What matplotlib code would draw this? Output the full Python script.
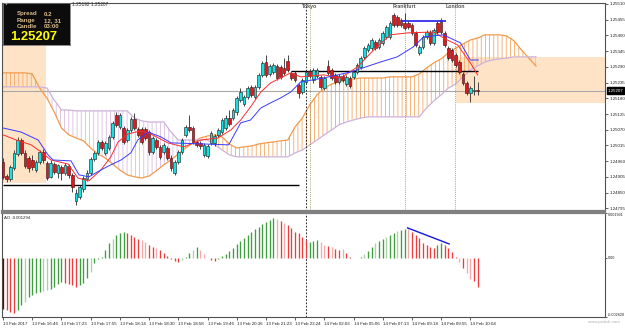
import numpy as np
import matplotlib
matplotlib.use("Agg")
import matplotlib.pyplot as plt
import matplotlib.transforms as mtransforms

# ---------------- data ----------------
OPEN = [1.24957, 1.24908, 1.24898, 1.24936, 1.24985, 1.25034, 1.24989, 1.24971, 1.24964, 1.24929,
        1.24957, 1.24992, 1.24954, 1.24905, 1.24950, 1.24919, 1.24940, 1.24919, 1.24943, 1.24912,
        1.24821, 1.24835, 1.24863, 1.24898, 1.24919, 1.24968, 1.24989, 1.25027, 1.24989, 1.25006,
        1.25045, 1.25122, 1.25080, 1.25076, 1.25034, 1.25069, 1.25108, 1.25073, 1.25073, 1.25073,
        1.25062, 1.24992, 1.25034, 1.25010, 1.24992, 1.25006, 1.24971, 1.24919, 1.24957, 1.24992,
        1.25052, 1.25080, 1.25076, 1.25027, 1.25024, 1.24982, 1.24978, 1.25024, 1.25024, 1.25052,
        1.25062, 1.25076, 1.25111, 1.25111, 1.25132, 1.25174, 1.25160, 1.25185, 1.25220, 1.25185,
        1.25220, 1.25262, 1.25307, 1.25265, 1.25272, 1.25293, 1.25290, 1.25286, 1.25311, 1.25269,
        1.25269, 1.25227, 1.25202, 1.25237, 1.25276, 1.25244, 1.25258, 1.25255, 1.25216, 1.25293,
        1.25279, 1.25262, 1.25237, 1.25258, 1.25230, 1.25251, 1.25255, 1.25272, 1.25290, 1.25325,
        1.25349, 1.25356, 1.25377, 1.25360, 1.25374, 1.25395, 1.25395, 1.25472, 1.25465, 1.25454,
        1.25444, 1.25444, 1.25437, 1.25409, 1.25339, 1.25360, 1.25395, 1.25412, 1.25374, 1.25444,
        1.25454, 1.25409, 1.25356, 1.25349, 1.25332, 1.25307, 1.25265, 1.25234, 1.25199, 1.25206,
        1.25209]
HIGH = [1.24971, 1.24915, 1.24947, 1.24999, 1.25045, 1.25041, 1.24999, 1.24978, 1.24982, 1.24964,
        1.24999, 1.25003, 1.24961, 1.24964, 1.24957, 1.24950, 1.24947, 1.24954, 1.24950, 1.24919,
        1.24863, 1.24877, 1.24908, 1.24929, 1.24975, 1.24996, 1.25034, 1.25034, 1.25031, 1.25052,
        1.25101, 1.25132, 1.25129, 1.25083, 1.25076, 1.25115, 1.25129, 1.25080, 1.25080, 1.25080,
        1.25069, 1.25048, 1.25041, 1.25017, 1.25024, 1.25013, 1.24982, 1.24964, 1.24999, 1.25041,
        1.25087, 1.25122, 1.25083, 1.25034, 1.25031, 1.25024, 1.25020, 1.25066, 1.25055, 1.25076,
        1.25111, 1.25122, 1.25139, 1.25146, 1.25188, 1.25216, 1.25192, 1.25223, 1.25227, 1.25227,
        1.25269, 1.25311, 1.25332, 1.25300, 1.25304, 1.25300, 1.25297, 1.25321, 1.25332, 1.25276,
        1.25276, 1.25234, 1.25251, 1.25279, 1.25283, 1.25286, 1.25286, 1.25262, 1.25258, 1.25314,
        1.25286, 1.25269, 1.25265, 1.25265, 1.25262, 1.25258, 1.25279, 1.25304, 1.25328, 1.25363,
        1.25374, 1.25391, 1.25384, 1.25391, 1.25416, 1.25437, 1.25451, 1.25479, 1.25472, 1.25461,
        1.25479, 1.25451, 1.25444, 1.25416, 1.25367, 1.25402, 1.25419, 1.25419, 1.25426, 1.25451,
        1.25461, 1.25416, 1.25363, 1.25356, 1.25339, 1.25314, 1.25272, 1.25241, 1.25223, 1.25258,
        1.25237]
LOW = [1.24898, 1.24887, 1.24891, 1.24929, 1.24978, 1.24982, 1.24936, 1.24922, 1.24929, 1.24922,
       1.24950, 1.24954, 1.24894, 1.24901, 1.24915, 1.24901, 1.24894, 1.24912, 1.24901, 1.24852,
       1.24807, 1.24828, 1.24852, 1.24891, 1.24912, 1.24961, 1.24982, 1.24999, 1.24982, 1.24999,
       1.25038, 1.25080, 1.25073, 1.25020, 1.25027, 1.25062, 1.25069, 1.25045, 1.25020, 1.25034,
       1.24982, 1.24985, 1.25003, 1.24968, 1.24985, 1.24964, 1.24926, 1.24912, 1.24950, 1.24985,
       1.25045, 1.25062, 1.25020, 1.25010, 1.25003, 1.24975, 1.24971, 1.25017, 1.25013, 1.25045,
       1.25055, 1.25069, 1.25083, 1.25104, 1.25122, 1.25167, 1.25153, 1.25178, 1.25185, 1.25178,
       1.25213, 1.25255, 1.25255, 1.25258, 1.25265, 1.25244, 1.25248, 1.25262, 1.25272, 1.25244,
       1.25237, 1.25181, 1.25195, 1.25230, 1.25251, 1.25234, 1.25251, 1.25213, 1.25209, 1.25262,
       1.25244, 1.25230, 1.25230, 1.25237, 1.25223, 1.25216, 1.25248, 1.25265, 1.25283, 1.25318,
       1.25342, 1.25349, 1.25349, 1.25353, 1.25367, 1.25388, 1.25388, 1.25430, 1.25430, 1.25430,
       1.25419, 1.25423, 1.25402, 1.25360, 1.25332, 1.25353, 1.25388, 1.25367, 1.25367, 1.25405,
       1.25405, 1.25360, 1.25314, 1.25307, 1.25290, 1.25265, 1.25227, 1.25192, 1.25167, 1.25192,
       1.25192]
CLOSE = [1.24905, 1.24898, 1.24940, 1.24989, 1.25034, 1.24989, 1.24943, 1.24936, 1.24940, 1.24957,
         1.24992, 1.24964, 1.24901, 1.24954, 1.24922, 1.24947, 1.24919, 1.24947, 1.24912, 1.24870,
         1.24849, 1.24870, 1.24901, 1.24919, 1.24968, 1.24989, 1.25027, 1.25006, 1.25024, 1.25045,
         1.25094, 1.25087, 1.25122, 1.25027, 1.25069, 1.25108, 1.25076, 1.25052, 1.25027, 1.25041,
         1.24992, 1.25041, 1.25010, 1.24975, 1.25017, 1.24971, 1.24936, 1.24957, 1.24992, 1.25034,
         1.25080, 1.25069, 1.25027, 1.25017, 1.25013, 1.25017, 1.25013, 1.25059, 1.25048, 1.25069,
         1.25104, 1.25111, 1.25090, 1.25139, 1.25181, 1.25202, 1.25185, 1.25216, 1.25192, 1.25220,
         1.25262, 1.25304, 1.25262, 1.25293, 1.25297, 1.25251, 1.25255, 1.25269, 1.25279, 1.25251,
         1.25244, 1.25199, 1.25244, 1.25272, 1.25258, 1.25279, 1.25279, 1.25220, 1.25251, 1.25269,
         1.25251, 1.25237, 1.25258, 1.25244, 1.25255, 1.25223, 1.25272, 1.25297, 1.25321, 1.25356,
         1.25367, 1.25384, 1.25356, 1.25384, 1.25409, 1.25430, 1.25444, 1.25437, 1.25437, 1.25437,
         1.25426, 1.25430, 1.25409, 1.25367, 1.25360, 1.25395, 1.25412, 1.25374, 1.25419, 1.25412,
         1.25412, 1.25367, 1.25321, 1.25314, 1.25297, 1.25272, 1.25234, 1.25199, 1.25216, 1.25209,
         1.25207]

# Ichimoku lines: (bar index, price) vertices
TENKAN_X = [0, 3.6, 7.7, 10.4, 13.1, 17.8, 20.5, 23.5, 26.8, 29.5, 31.5, 34.2, 37.7, 40.5, 45.1, 49.5,
            54.2, 58.8, 62.4, 65.1, 67.8, 70.6, 73.3, 76, 78.8, 81.5, 87.8, 92.5, 97.1, 101.5, 106.1,
            110.8, 117.9, 121.7, 124.5, 128, 130]
TENKAN_Y = [1.25052, 1.25034, 1.25017, 1.24992, 1.24964, 1.24950, 1.24901, 1.24891, 1.24929, 1.24975,
            1.25027, 1.25055, 1.25066, 1.25055, 1.25024, 1.25010, 1.25034, 1.25041, 1.25069, 1.25104,
            1.25150, 1.25202, 1.25234, 1.25251, 1.25269, 1.25255, 1.25262, 1.25251, 1.25290, 1.25349,
            1.25402, 1.25409, 1.25412, 1.25384, 1.25367, 1.25304, 1.25262]
KIJUN_X = [0, 4.9, 9.6, 12.3, 13.7, 18.6, 20.8, 23.5, 26.8, 29.5, 32.3, 35, 36.9, 39.7, 43.2, 46,
           61.8, 65.1, 67.8, 70.6, 73.3, 76, 78.8, 81.5, 87.8, 95.2, 103.4, 108, 112.4, 115.2, 120.6,
           125.3, 128, 130.2]
KIJUN_Y = [1.25076, 1.25062, 1.25034, 1.24982, 1.24964, 1.24961, 1.24912, 1.24905, 1.24929, 1.24947,
           1.24964, 1.24989, 1.25034, 1.25062, 1.25045, 1.25024, 1.25017, 1.25094, 1.25104, 1.25146,
           1.25164, 1.25181, 1.25202, 1.25237, 1.25251, 1.25272, 1.25307, 1.25325, 1.25360, 1.25395,
           1.25402, 1.25374, 1.25314, 1.25314]
SPAN_X = list(range(0, 148, 2))
SPAN_A = [1.25269, 1.25269, 1.25269, 1.25269, 1.25265, 1.25216, 1.25181, 1.25132, 1.25076, 1.25052,
          1.25041, 1.25031, 1.25006, 1.24985, 1.24971, 1.24950, 1.24929, 1.24912, 1.24905, 1.24901,
          1.24908, 1.24926, 1.24947, 1.24964, 1.24985, 1.25006, 1.25024, 1.25041, 1.25048, 1.25052,
          1.25045, 1.25020, 1.25006, 1.25010, 1.25013, 1.25020, 1.25024, 1.25027, 1.25031, 1.25034,
          1.25080, 1.25111, 1.25157, 1.25192, 1.25216, 1.25230, 1.25237, 1.25244, 1.25248, 1.25251,
          1.25251, 1.25251, 1.25251, 1.25255, 1.25255, 1.25255, 1.25255, 1.25265, 1.25286, 1.25304,
          1.25318, 1.25339, 1.25356, 1.25370, 1.25384, 1.25391, 1.25402, 1.25402, 1.25402, 1.25398,
          1.25381, 1.25349, 1.25321, 1.25293]
SPAN_B = [1.25220, 1.25220, 1.25220, 1.25220, 1.25220, 1.25220, 1.25216, 1.25174, 1.25139, 1.25139,
          1.25136, 1.25136, 1.25136, 1.25136, 1.25136, 1.25136, 1.25136, 1.25136, 1.25111, 1.25101,
          1.25097, 1.25097, 1.25097, 1.25062, 1.25034, 1.25034, 1.25034, 1.25034, 1.25034, 1.25017,
          1.24999, 1.24982, 1.24975, 1.24975, 1.24975, 1.24975, 1.24975, 1.24975, 1.24975, 1.24975,
          1.24989, 1.24999, 1.25017, 1.25034, 1.25052, 1.25069, 1.25087, 1.25097, 1.25104, 1.25111,
          1.25115, 1.25115, 1.25115, 1.25115, 1.25115, 1.25115, 1.25115, 1.25115, 1.25146, 1.25171,
          1.25192, 1.25216, 1.25230, 1.25255, 1.25279, 1.25293, 1.25307, 1.25314, 1.25318, 1.25321,
          1.25325, 1.25325, 1.25325, 1.25325]

AO = [-0.00225, -0.00232, -0.00238, -0.00243, -0.00232, -0.00210, -0.00195, -0.00175, -0.00165, -0.00157,
      -0.00151, -0.00147, -0.00142, -0.00136, -0.00127, -0.00115, -0.00108, -0.00111, -0.00115, -0.00122,
      -0.00128, -0.00119, -0.00110, -0.00090, -0.00062, -0.00022, -0.00005, 0.00004, 0.00035, 0.00066,
      0.00084, 0.00102, 0.00111, 0.00113, 0.00110, 0.00102, 0.00093, 0.00084, 0.00080, 0.00071,
      0.00058, 0.00049, 0.00044, 0.00035, 0.00022, 0.00009, -0.00004, -0.00013, -0.00018, -0.00009,
      0.00004, 0.00022, 0.00035, 0.00049, 0.00035, 0.00018, 0.00001, -0.00009, -0.00013, -0.00004,
      0.00009, 0.00018, 0.00031, 0.00044, 0.00062, 0.00075, 0.00089, 0.00102, 0.00115, 0.00128,
      0.00137, 0.00150, 0.00160, 0.00168, 0.00177, 0.00173, 0.00164, 0.00155, 0.00146, 0.00133,
      0.00115, 0.00111, 0.00093, 0.00080, 0.00071, 0.00075, 0.00080, 0.00071, 0.00058, 0.00053,
      0.00049, 0.00040, 0.00035, 0.00040, 0.00022, 0.00004, 0.00000, 0.00000, 0.00002, 0.00018,
      0.00031, 0.00049, 0.00066, 0.00075, 0.00084, 0.00093, 0.00102, 0.00111, 0.00120, 0.00122,
      0.00128, 0.00128, 0.00115, 0.00102, 0.00089, 0.00066, 0.00058, 0.00049, 0.00044, 0.00058,
      0.00066, 0.00058, 0.00044, 0.00027, 0.00004, -0.00018, -0.00044, -0.00066, -0.00093, -0.00102,
      -0.00128]
AO_COLOR = ["dr", "r", "r", "r", "g", "g", "lg", "g", "g", "g",
            "g", "lg", "lg", "g", "g", "g", "g", "r", "r", "r",
            "r", "g", "g", "g", "lg", "g", "g", "g", "g", "g",
            "lg", "g", "g", "g", "r", "r", "r", "r", "lr", "lr",
            "r", "r", "lr", "r", "r", "r", "r", "r", "r", "lg",
            "g", "g", "lg", "g", "lr", "lr", "r", "r", "r", "g",
            "g", "g", "g", "g", "g", "g", "g", "g", "g", "g",
            "g", "g", "g", "g", "g", "lr", "r", "lr", "r", "r",
            "r", "r", "r", "r", "g", "g", "g", "lr", "lr", "r",
            "lr", "r", "r", "lg", "r", "r", "r", "g", "g", "lg",
            "g", "g", "lg", "g", "g", "lg", "g", "g", "lg", "g",
            "g", "lr", "r", "r", "r", "r", "r", "r", "r", "g",
            "g", "r", "r", "r", "r", "lr", "r", "lr", "lr", "r",
            "r"]

TIME_LABELS = ["13 Feb 2017", "13 Feb 16:46", "13 Feb 17:23", "13 Feb 17:55", "13 Feb 18:14",
               "13 Feb 18:30", "13 Feb 18:58", "13 Feb 19:46", "13 Feb 20:36", "13 Feb 21:23",
               "13 Feb 23:24", "14 Feb 02:03", "14 Feb 05:06", "14 Feb 07:13", "14 Feb 09:18",
               "14 Feb 09:55", "14 Feb 10:04"]
LABEL_STEP = 8
PRICE_TICKS = [1.25510, 1.25455, 1.25400, 1.25345, 1.25290, 1.25235, 1.25180, 1.25125,
               1.25070, 1.25015, 1.24960, 1.24905, 1.24850, 1.24795]
AO_TICKS = [0.001991, 0.0, -0.002620]
AO_TICK_LABELS = ["0.001991", "0.00", "-0.002620"]
BID = 1.25207
SESSIONS = ["Tokyo", "Frankfurt", "London"]
SESSION_BARS = [84.0, 110.0, 123.9]
TOKYO_OPEN_BAR = 82.9
SUPPORT = (0, 81, 1.24878)
RESIST = (78.8, 130.2, 1.25277)
TOP_LINE = (109.4, 121.4, 1.25451)
AO_TREND = ((110.8, 0.00133), (122.2, 0.00062))
ZONE_LEFT = (-0.6, 11.8, 1.24884, 1.25520)
ZONE_RIGHT = (124.2, 170.0, 1.25164, 1.25324)

# ---------------- figure ----------------
plt.rcParams["font.family"] = ["Liberation Sans", "DejaVu Sans"]
plt.rcParams["hatch.linewidth"] = 0.6
TS = 3.2  # tick label size

W, H = 625, 328
fig = plt.figure(figsize=(W / 100, H / 100), dpi=100)
fig.patch.set_facecolor("white")

ax = fig.add_axes([2 / W, 1 - 211 / H, 603 / W, 208 / H])
ax2 = fig.add_axes([2 / W, 1 - 317 / H, 603 / W, 104 / H])
XMAX = 164.9
for a in (ax, ax2):
    a.set_xlim(-0.3, XMAX)
    for s in a.spines.values():
        s.set_color("#505050")
        s.set_linewidth(0.8)
ax.set_ylim(1.247855, 1.255135)
ax2.set_ylim(-0.00262, 0.001991)
ax.spines["bottom"].set_color("#808080")
ax.spines["bottom"].set_linewidth(1.6)
ax2.spines["top"].set_color("#808080")
ax2.spines["top"].set_linewidth(1.6)

O = np.array(OPEN); Hh = np.array(HIGH); L = np.array(LOW); C = np.array(CLOSE)
x = np.arange(len(O))

# zones
for (x0, x1, y0, y1) in (ZONE_LEFT, ZONE_RIGHT):
    ax.fill_between([x0, x1], [y0, y0], [y1, y1], color="#FEE3C6", lw=0, zorder=0)

# cloud
sx = np.array(SPAN_X); sa = np.array(SPAN_A); sb = np.array(SPAN_B)
ax.fill_between(sx, sa, sb, where=sa >= sb, interpolate=True, facecolor="none",
                edgecolor="#F6A866", hatch="||||", linewidth=0, zorder=1)
ax.fill_between(sx, sa, sb, where=sa < sb, interpolate=True, facecolor="none",
                edgecolor="#D9BEDF", hatch="||||", linewidth=0, zorder=1)
ax.plot(sx, sa, color="#F39A4C", lw=0.9, zorder=2)
ax.plot(sx, sb, color="#CFB2DA", lw=0.9, zorder=2)

# reference lines
ax.axhline(BID, color="#A8A8A8", lw=0.8, zorder=1.5)
ax.hlines(SUPPORT[2], SUPPORT[0], SUPPORT[1], color="black", lw=1.0, zorder=2.5)
ax.hlines(RESIST[2], RESIST[0], RESIST[1], color="black", lw=1.0, zorder=2.5)

# sessions
ax.axvline(TOKYO_OPEN_BAR, color="black", lw=0.6, ls=(0, (2, 2)), zorder=2)
ax2.axvline(TOKYO_OPEN_BAR, color="black", lw=0.6, ls=(0, (2, 2)), zorder=2)
for name, b in zip(SESSIONS, SESSION_BARS):
    ax.axvline(b, color="#8E8E4A", lw=0.6, ls=(0, (1, 1.5)), zorder=2)
    ax.text(b, 1.25500, name, ha="center", va="center", fontsize=3.8,
            fontweight="bold", color="#555555", zorder=6)

# candles
up = C >= O
ax.vlines(x, L, Hh, color="#2a2a2a", lw=0.6, zorder=3)
ax.bar(x[up], (C - O)[up], bottom=O[up], width=0.72, color="#11E3E3",
       edgecolor="#2a2a2a", linewidth=0.45, zorder=3.5)
dn = ~up
ax.bar(x[dn], (O - C)[dn], bottom=C[dn], width=0.72, color="#E3161C",
       edgecolor="#4a1a1a", linewidth=0.45, zorder=3.5)

# tenkan / kijun
ax.plot(TENKAN_X, TENKAN_Y, color="#FF2A2A", lw=0.7, zorder=4)
ax.plot(KIJUN_X, KIJUN_Y, color="#3A3AFF", lw=0.7, zorder=4)
ax.hlines(TOP_LINE[2], TOP_LINE[0], TOP_LINE[1], color="#3030E8", lw=1.3, zorder=5)

# axes ticks
ax.set_xticks([])
ax.yaxis.tick_right()
ax.set_yticks(PRICE_TICKS)
ax.set_yticklabels([f"{v:.5f}" for v in PRICE_TICKS])
ax.tick_params(axis="y", length=2, width=0.5, labelsize=TS, pad=1.2, colors="#202020")
bt = mtransforms.blended_transform_factory(ax.transAxes, ax.transData)
ax.text(1.0045, BID, f"{BID:.5f}", transform=bt, fontsize=TS, color="white",
        va="center", ha="left", bbox=dict(boxstyle="square,pad=0.25", fc="black", ec="black"),
        zorder=10, clip_on=False)

# AO panel
ao = np.array(AO)
cmap = {"g": "#3E9E3E", "lg": "#A9D3A6", "r": "#EE3B3B", "lr": "#F6A9A9", "dr": "#7A0000"}
ax2.vlines(np.arange(len(ao)), 0, ao, colors=[cmap[c] for c in AO_COLOR], lw=0.95, zorder=3)
ax2.plot([AO_TREND[0][0], AO_TREND[1][0]], [AO_TREND[0][1], AO_TREND[1][1]],
         color="#1515E0", lw=1.0, zorder=4)
ax2.yaxis.tick_right()
ax2.set_yticks(AO_TICKS)
ax2.set_yticklabels(AO_TICK_LABELS)
ax2.tick_params(axis="y", length=1.5, width=0.5, labelsize=2.7, pad=0.5, colors="#202020")
for lbl, va in zip(ax2.get_yticklabels(), ["top", "center", "bottom"]):
    lbl.set_verticalalignment(va)
ticks = [i * LABEL_STEP for i in range(len(TIME_LABELS))]
ax2.set_xticks(ticks)
ax2.set_xticklabels(TIME_LABELS, ha="left")
ax2.tick_params(axis="x", length=2.5, width=0.5, labelsize=TS, pad=1.0, colors="#202020")
ax2.text(0.003, 0.955, "AO -0.001294", transform=ax2.transAxes, fontsize=3.1,
         color="#202020", va="center", ha="left")

# info box
box = fig.add_axes([3 / W, 1 - 45 / H, 67 / W, 42 / H])
box.set_xlim(0, 67); box.set_ylim(42, 0)
box.set_facecolor("#0c0c0c")
box.set_xticks([]); box.set_yticks([])
for s in box.spines.values():
    s.set_color("#777777"); s.set_linewidth(0.6)
info_lab = ["Spread", "Range", "Candle"]
info_val = ["0.2", "12, 31", "03:00"]
for k, (lab, val) in enumerate(zip(info_lab, info_val)):
    yy = 11 + 6.5 * k
    box.text(14, yy, lab, ha="left", va="center", fontsize=4.4, fontweight="bold", color="#D9BC8C")
    box.text(41, yy, val, ha="left", va="center", fontsize=4.4, fontweight="bold", color="#D9BC8C")
box.text(7, 34.5, f"{BID:.5f}", ha="left", va="center", fontsize=9.4, fontweight="bold", color="#FFFF00")
box.text(1.5, 1.8, "\u25BC", ha="left", va="center", fontsize=2.5, color="#aaaaaa",
         family=["DejaVu Sans"])

fig.text(72 / W, 1 - 5 / H, "1.25192 1.25207", fontsize=3.4, color="#303030", va="center", ha="left")
fig.text(620 / W, 1 - 322 / H, "www.pixtick.com", fontsize=3.2, color="#B0B0B0", va="center", ha="right")

fig.savefig("out.png", dpi=100)
